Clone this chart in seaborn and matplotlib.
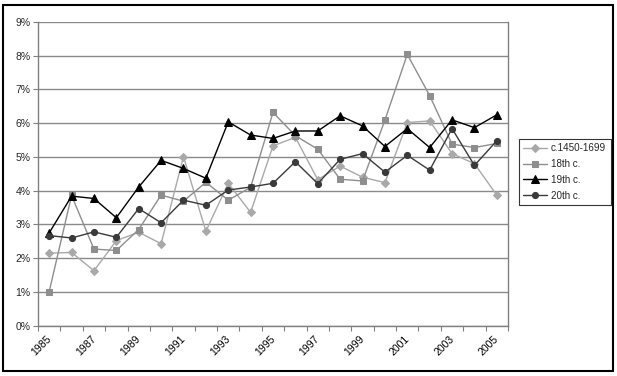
import numpy as np
import pandas as pd
import matplotlib
matplotlib.use("Agg")
import matplotlib.pyplot as plt
from matplotlib.patches import Rectangle
import seaborn as sns

# ============================================================
# DATA (share per year, in %)
# ============================================================
years = list(range(1985, 2006))
c1450_1699 = [2.15, 2.17, 1.63, 2.52, 2.77, 2.43, 5.01, 2.80, 4.22, 3.36, 5.33,
              5.58, 4.33, 4.73, 4.40, 4.24, 6.02, 6.07, 5.10, 4.80, 3.87]
c18th = [1.01, 3.86, 2.27, 2.23, 2.85, 3.87, 3.69, 4.25, 3.72, 4.10, 6.32,
         5.63, 5.23, 4.34, 4.29, 6.09, 8.04, 6.82, 5.38, 5.28, 5.40]
c19th = [2.75, 3.84, 3.77, 3.20, 4.11, 4.90, 4.66, 4.37, 6.04, 5.65, 5.55,
         5.77, 5.77, 6.22, 5.92, 5.31, 5.84, 5.28, 6.10, 5.87, 6.25]
c20th = [2.67, 2.60, 2.78, 2.62, 3.47, 3.05, 3.72, 3.57, 4.02, 4.11, 4.22,
         4.86, 4.21, 4.93, 5.10, 4.55, 5.05, 4.61, 5.84, 4.75, 5.48]
series_names = ["c.1450-1699", "18th c.", "19th c.", "20th c."]

# long format fuer seaborn
rows = []
for name, vals in zip(series_names, [c1450_1699, c18th, c19th, c20th]):
    for i, v in enumerate(vals):
        rows.append({"idx": i, "year": years[i], "value": v, "series": name})
df = pd.DataFrame(rows)

# ============================================================
# STYLE
# ============================================================
sns.set_style("white")
plt.rcParams["font.family"] = ["Liberation Sans", "DejaVu Sans"]

palette = {"c.1450-1699": "#a9a9a9", "18th c.": "#8e8e8e",
           "19th c.": "#000000", "20th c.": "#3a3a3a"}
markers = {"c.1450-1699": "D", "18th c.": "s", "19th c.": "^", "20th c.": "o"}
msizes = {"c.1450-1699": 4.0, "18th c.": 4.6, "19th c.": 5.4, "20th c.": 4.4}

fig = plt.figure(figsize=(6.17, 3.76), dpi=100)
W, H = 617, 376
ax = fig.add_axes([38 / W, 1 - 325.7 / H, (508 - 38) / W, (325.7 - 22) / H])

for name in series_names:
    sub = df[df["series"] == name]
    sns.lineplot(data=sub, x="idx", y="value", ax=ax, color=palette[name],
                 marker=markers[name], markersize=msizes[name],
                 markeredgecolor=palette[name], linewidth=1.0, label=name)

# ============================================================
# ACHSEN
# ============================================================
ax.set_xlim(-0.5, len(years) - 0.5)
ax.set_ylim(0, 9)
ax.set_yticks(range(0, 10))
ax.set_yticklabels([f"{v}%" for v in range(0, 10)])
ax.yaxis.grid(True, color="#8a8a8a", linewidth=1.0)
ax.set_axisbelow(True)

ax.set_xticks(np.arange(-0.5, len(years), 1.0), minor=True)
lbl_idx = list(range(0, len(years), 2))
ax.set_xticks([i - 0.15 for i in lbl_idx])
ax.set_xticklabels([str(years[i]) for i in lbl_idx], rotation=45,
                   ha="right", rotation_mode="anchor")
ax.tick_params(axis="x", which="major", length=0, pad=6, labelsize=7.5, colors="#000000")
ax.tick_params(axis="x", which="minor", length=3.5, width=0.8, color="#808080",
               direction="out", bottom=True)
ax.tick_params(axis="y", length=3.5, width=0.8, color="#808080", direction="out",
               labelsize=7.5, left=True, pad=2)
ax.set_xlabel("")
ax.set_ylabel("")

for side in ["left", "right", "bottom"]:
    ax.spines[side].set_color("#808080")
    ax.spines[side].set_linewidth(1.0)
ax.spines["top"].set_visible(False)
ax.spines["right"].set_visible(True)

# ============================================================
# LEGENDE
# ============================================================
leg = ax.legend(loc="upper left", bbox_to_anchor=((519 - 38) / 470, (325.7 - 139) / 303.7),
                frameon=True, fancybox=False, fontsize=7.1, handlelength=2.4,
                handletextpad=0.4, borderpad=0.45, labelspacing=0.58,
                borderaxespad=0)
leg.get_frame().set_edgecolor("#000000")
leg.get_frame().set_linewidth(0.8)

# Rahmen um die ganze Grafik
fig.patches.append(Rectangle((3 / W, 5 / H), 610 / W, 366 / H, transform=fig.transFigure,
                             fill=False, edgecolor="#000000", linewidth=1.5))

plt.savefig("out.png", dpi=100)
